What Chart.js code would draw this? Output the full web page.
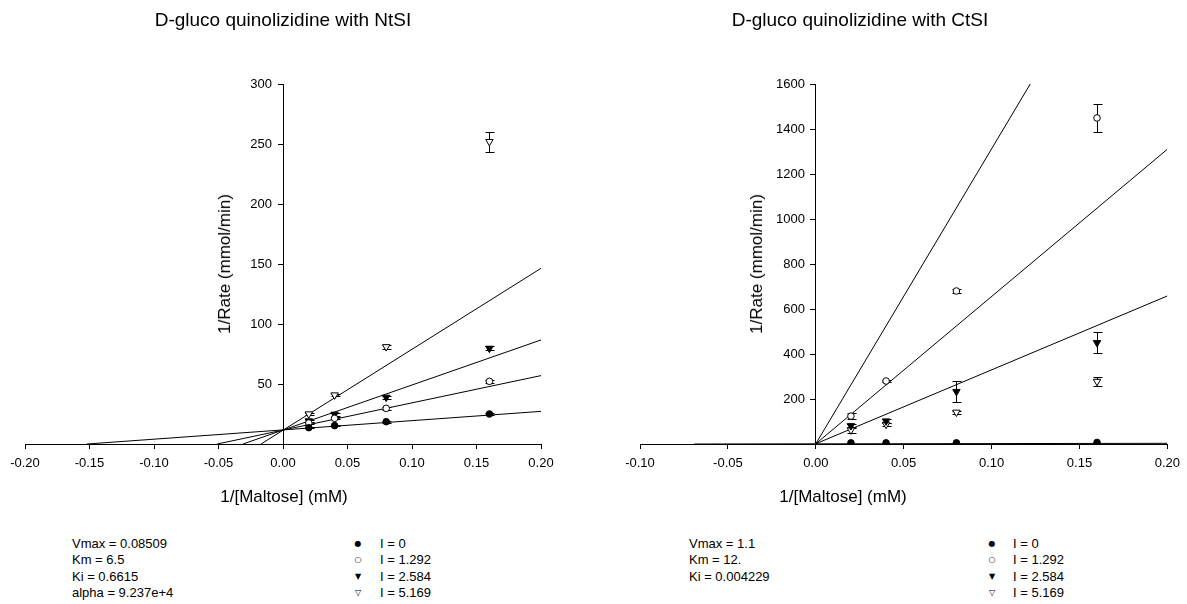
<!DOCTYPE html>
<html><head><meta charset="utf-8">
<script src="https://cdn.jsdelivr.net/npm/chart.js@4.4.0/dist/chart.umd.min.js"></script>
<style>
html,body{margin:0;padding:0;background:#fff;}
body{width:1187px;height:604px;position:relative;overflow:hidden;font-family:"Liberation Sans",Arial,sans-serif;color:#000;}
canvas{position:absolute;top:0;}
.c{position:absolute;white-space:nowrap;transform:translate(-50%,-50%);}
.title{font-size:19px;}
.axt{font-size:17px;}
.rot{transform:translate(-50%,-50%) rotate(-90deg);}
.blk{position:absolute;font-size:13px;line-height:16.3px;white-space:nowrap;}
.mk{position:absolute;font-family:"DejaVu Sans",sans-serif;font-size:8px;line-height:16.3px;text-align:center;width:10px;}
</style>
</head><body>
<canvas id="left" width="590" height="520" style="left:0;width:590px;height:520px;"></canvas>
<canvas id="right" width="597" height="520" style="left:590px;width:597px;height:520px;"></canvas>

<div class="c title" style="left:283px;top:20px;">D-gluco quinolizidine with NtSI</div>
<div class="c title" style="left:860px;top:20px;">D-gluco quinolizidine with CtSI</div>
<div class="c axt" style="left:284px;top:497px;">1/[Maltose] (mM)</div>
<div class="c axt" style="left:843px;top:497px;">1/[Maltose] (mM)</div>
<div class="c axt rot" style="left:225px;top:264px;">1/Rate (mmol/min)</div>
<div class="c axt rot" style="left:757px;top:264px;">1/Rate (mmol/min)</div>

<div class="blk" id="statsL" style="left:72px;top:536px;"></div>
<div class="blk" id="statsR" style="left:689px;top:536px;"></div>
<div id="legL"></div>
<div id="legR"></div>

<script>
// ---------- data ----------
const substrate = [0.02, 0.04, 0.08, 0.16];
const seriesNames = ['I = 0', 'I = 1.292', 'I = 2.584', 'I = 5.169'];

// NtSI (left)
const ntsiI0 = [13.6, 15.3, 18.6, 25.0];
const ntsiI1 = [17.5, 21.4, 29.7, 52.2];
const ntsiI2 = [19.2, 24.7, 38.9, 79.7];
const ntsiI3 = [25.0, 40.8, 81.0, 252.0];
const ntsiErr0 = [0.5, 0.5, 0.7, 0.8];
const ntsiErr1 = [0.8, 0.8, 1.0, 1.2];
const ntsiErr2 = [1.0, 1.2, 1.5, 1.6];
const ntsiErr3 = [1.0, 1.2, 1.6, 8.3];
const ntsiFitStartX = [-0.152, -0.051, -0.031, -0.017];
const ntsiFitStartY = [0, 0, 0, 0];
const ntsiFitEndX = [0.2, 0.2, 0.2, 0.2];
const ntsiFitEndY = [27.2, 57.0, 86.7, 146.4];
const ntsiXTicks = [-0.20, 0.20, 0.05];
const ntsiYTicks = [0, 300, 50];
const ntsiStats = ['Vmax = 0.08509', 'Km = 6.5', 'Ki = 0.6615', 'alpha = 9.237e+4'];

// CtSI (right)
const ctsiI0 = [5, 5, 5, 7];
const ctsiI1 = [124, 280, 680, 1449];
const ctsiI2 = [81, 102, 233, 450];
const ctsiI3 = [62, 87, 141, 278];
const ctsiErr0 = [0, 0, 0, 0];
const ctsiErr1 = [12, 6, 8, 62];
const ctsiErr2 = [10, 10, 46, 47];
const ctsiErr3 = [12, 8, 6, 18];
const ctsiFitStartX = [-0.069, 0, 0, 0];
const ctsiFitStartY = [0, 0.9, 0.9, 0.9];
const ctsiFitEndX = [0.2, 0.2, 0.2, 0.122];
const ctsiFitEndY = [3, 658, 1310, 1600];
const ctsiXTicks = [-0.10, 0.20, 0.05];
const ctsiYTicks = [0, 1600, 200];
const ctsiStats = ['Vmax = 1.1', 'Km = 12.', 'Ki = 0.004229'];

// ---------- styles ----------
const FONT = '"Liberation Sans", Arial, sans-serif';
const markerStyles = [
  {pointStyle: 'circle', fill: '#000', rot: 0, r: 3.3},
  {pointStyle: 'circle', fill: '#fff', rot: 0, r: 3.3},
  {pointStyle: 'triangle', fill: '#000', rot: 180, r: 4.3},
  {pointStyle: 'triangle', fill: '#fff', rot: 180, r: 4.3}
];
const legendGlyphs = ['\u25CF', '\u25CB', '\u25BC', '\u25BD'];

const errorBars = {
  id: 'errorBars',
  beforeDatasetsDraw(chart) {
    const {ctx, scales: {x, y}} = chart;
    ctx.save();
    ctx.strokeStyle = '#000';
    ctx.lineWidth = 1;
    chart.data.datasets.forEach((ds) => {
      if (!ds.errors) return;
      ds.data.forEach((p, j) => {
        const e = ds.errors[j];
        if (!e) return;
        const px = Math.round(x.getPixelForValue(p.x)) + 0.5;
        const t = Math.round(y.getPixelForValue(p.y + e)) + 0.5;
        const b = Math.round(y.getPixelForValue(p.y - e)) + 0.5;
        ctx.beginPath();
        ctx.moveTo(px, t); ctx.lineTo(px, b);
        ctx.moveTo(px - 4, t); ctx.lineTo(px + 5, t);
        ctx.moveTo(px - 4, b); ctx.lineTo(px + 5, b);
        ctx.stroke();
      });
    });
    ctx.restore();
  }
};

function fmtX(v) { return Math.abs(v) < 1e-9 ? '0.00' : v.toFixed(2); }

function makeChart(id, series, errs, fsx, fsy, fex, fey, xt, yt, pad, labelAxisX) {
  const datasets = [];
  for (let k = 0; k < 4; k++) {
    datasets.push({
      type: 'line',
      data: [{x: fsx[k], y: fsy[k]}, {x: fex[k], y: fey[k]}],
      borderColor: '#000', borderWidth: 1, pointRadius: 0, fill: false, order: 2
    });
  }
  series.forEach((vals, k) => {
    const m = markerStyles[k];
    datasets.push({
      type: 'scatter',
      label: seriesNames[k],
      data: substrate.map((s, j) => ({x: s, y: vals[j]})),
      errors: errs[k],
      pointStyle: m.pointStyle,
      rotation: m.rot,
      pointRadius: m.r,
      pointHoverRadius: m.r,
      pointBackgroundColor: m.fill,
      pointBorderColor: '#000',
      pointBorderWidth: 1,
      showLine: false,
      order: 1
    });
  });
  const tickFont = {family: FONT, size: 13};
  return new Chart(document.getElementById(id), {
    type: 'scatter',
    data: {datasets},
    options: {
      responsive: false,
      animation: false,
      events: [],
      layout: {padding: pad},
      plugins: {legend: {display: false}, tooltip: {enabled: false}, title: {display: false}},
      scales: {
        x: {
          type: 'linear', position: 'bottom', min: xt[0], max: xt[1],
          afterFit(s) { s.height = 40; },
          ticks: {stepSize: xt[2], color: '#000', font: tickFont, padding: 7,
                  maxRotation: 0, autoSkip: false, callback: v => fmtX(v)},
          grid: {drawOnChartArea: false, drawTicks: true, tickLength: 5, color: '#000'},
          border: {display: true, color: '#000', width: 1}
        },
        y: {
          type: 'linear', position: {x: 0}, min: yt[0], max: yt[1],
          ticks: {stepSize: yt[2], display: false},
          grid: {drawOnChartArea: false, drawTicks: true, tickLength: 5, color: '#000'},
          border: {display: true, color: '#000', width: 1}
        },
        yLabels: {
          type: 'linear', axis: 'y', position: {x: labelAxisX}, min: yt[0], max: yt[1],
          ticks: {stepSize: yt[2], color: '#000', font: tickFont, padding: 0,
                  callback: v => (v === 0 ? '' : String(v))},
          grid: {display: false},
          border: {display: false}
        }
      }
    },
    plugins: [errorBars]
  });
}

makeChart('left', [ntsiI0, ntsiI1, ntsiI2, ntsiI3], [ntsiErr0, ntsiErr1, ntsiErr2, ntsiErr3],
  ntsiFitStartX, ntsiFitStartY, ntsiFitEndX, ntsiFitEndY, ntsiXTicks, ntsiYTicks,
  {left: 25, right: 49, top: 84, bottom: 36}, -0.0085);
makeChart('right', [ctsiI0, ctsiI1, ctsiI2, ctsiI3], [ctsiErr0, ctsiErr1, ctsiErr2, ctsiErr3],
  ctsiFitStartX, ctsiFitStartY, ctsiFitEndX, ctsiFitEndY, ctsiXTicks, ctsiYTicks,
  {left: 50, right: 17, top: 84, bottom: 36}, -0.0062);

// ---------- text blocks ----------
function fillStats(id, lines) {
  document.getElementById(id).innerHTML = lines.map(s => '<div>' + s + '</div>').join('');
}
fillStats('statsL', ntsiStats);
fillStats('statsR', ctsiStats);

function fillLegend(id, mx, tx, top) {
  const el = document.getElementById(id);
  let html = '';
  seriesNames.forEach((n, k) => {
    const y = top + k * 16.3;
    html += '<div class="mk" style="left:' + (mx - 5) + 'px;top:' + y + 'px;">' + legendGlyphs[k] + '</div>';
    html += '<div class="blk" style="left:' + tx + 'px;top:' + y + 'px;">' + n + '</div>';
  });
  el.innerHTML = html;
}
fillLegend('legL', 358, 380, 536);
fillLegend('legR', 992, 1013, 536);
</script>
</body></html>
